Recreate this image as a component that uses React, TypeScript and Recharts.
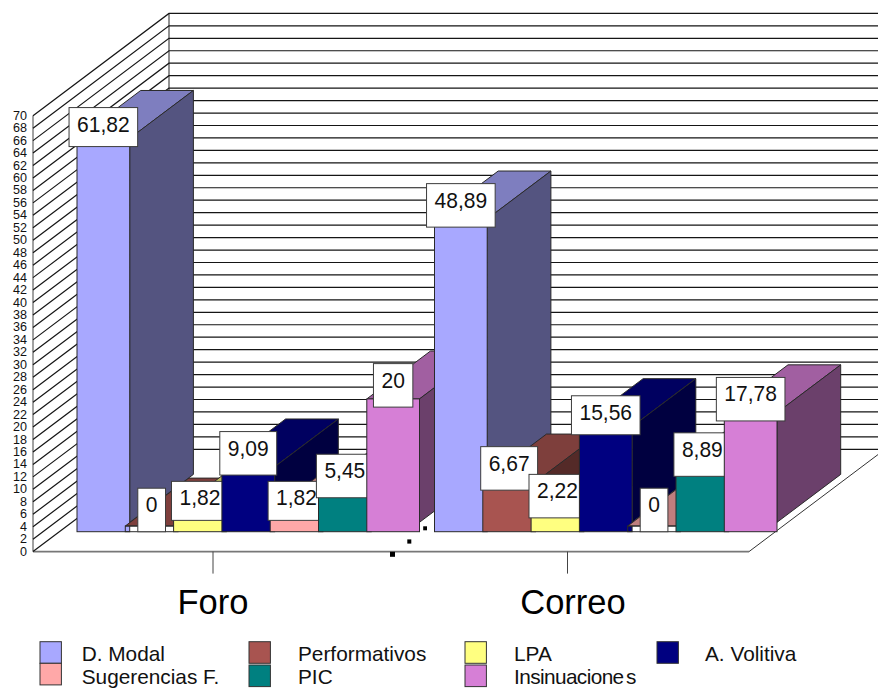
import React from 'react';
import { BarChart, Bar, XAxis, YAxis } from 'recharts';

const WIDTH = 878;
const HEIGHT = 688;

// Data
const categories = ['Foro', 'Correo'];
const seriesNames = ['D. Modal', 'Performativos', 'LPA', 'A. Volitiva', 'Sugerencias F.', 'PIC', 'Insinuaciones'];
const seriesColors = ['#A8A8FF', '#A85450', '#FFFF80', '#000080', '#FFA8A8', '#008080', '#D67FD6'];
const foroValues = [61.82, 0, 1.82, 9.09, 1.82, 5.45, 20];
const correoValues = [48.89, 6.67, 2.22, 15.56, 0, 8.89, 17.78];
const valueTicks = [0, 2, 4, 6, 8, 10, 12, 14, 16, 18, 20, 22, 24, 26, 28, 30, 32, 34, 36, 38, 40, 42, 44, 46, 48, 50, 52, 54, 56, 58, 60, 62, 64, 66, 68, 70];
const shortLabels = ['61,82', '15,56', '1,82'];

// Oblique projection of the box
const PLOT_LEFT = 33;
const PLOT_TOP = 115.7;
const PLOT_BOTTOM = 551.6;
const WALL_DX = 136;
const WALL_DY = 102.3;
const FLOOR_RIGHT = 749;
const BAR_DX = 63.7;
const BAR_DY = 47.9;
const FLOOR_LIP = 8.2; // fronts hang this far below the zero plane
const SIDE_LIFT = 1.2; // side faces stop this far above the zero plane
const EMPTY_DROP = 2.5; // an empty bar's lid sits just under the zero plane

const FONT = '"Liberation Sans", Arial, sans-serif';

const shade = (hex: string, k: number) => {
  const n = parseInt(hex.slice(1), 16);
  const c = [(n >> 16) & 255, (n >> 8) & 255, n & 255].map((v) => Math.round(v * k));
  return `rgb(${c[0]},${c[1]},${c[2]})`;
};

const formatValue = (v: number) => String(v).replace('.', ',');

// One bar in oblique projection, with its value box in front of it.
const Block = (props: any) => {
  const { x, y: valueY, width, height, color, amount } = props;
  const zero = valueY + height;
  const y = amount === 0 ? zero + EMPTY_DROP : valueY;
  const bottom = zero + FLOOR_LIP;
  const sideBottom = zero - SIDE_LIFT;
  const label = formatValue(amount);
  const textW = label.replace(',', '').length * 11.7 + (label.includes(',') ? 5.8 : 0);
  const boxW = textW + 16;
  const boxH = shortLabels.includes(label) ? 39 : 43.5;
  const cx = x + width / 2;
  const boxBottom = valueY + FLOOR_LIP;
  const edge = '#2a2a2a';
  return (
    <g>
      <polygon
        points={`${x},${y} ${x + width},${y} ${x + width + BAR_DX},${y - BAR_DY} ${x + BAR_DX},${y - BAR_DY}`}
        fill={shade(color, 0.75)}
        stroke={edge}
      />
      {y < sideBottom && (
        <polygon
          points={`${x + width},${y} ${x + width + BAR_DX},${y - BAR_DY} ${x + width + BAR_DX},${sideBottom - BAR_DY} ${x + width},${sideBottom}`}
          fill={shade(color, 0.5)}
          stroke={edge}
        />
      )}
      <rect x={x} y={y} width={width} height={bottom - y} fill={amount === 0 ? 'none' : color} stroke={edge} />
      <rect x={cx - boxW / 2} y={boxBottom - boxH} width={boxW} height={boxH} fill="#fff" stroke="#3c3c3c" />
      <text
        x={cx}
        y={boxBottom - boxH + 16.5}
        textAnchor="middle"
        dominantBaseline="central"
        fontFamily={FONT}
        fontSize={22.5}
        textLength={textW}
        lengthAdjust="spacingAndGlyphs"
        fill="#111"
      >
        {label}
      </text>
    </g>
  );
};

// Value tick with the side wall and back wall rulings at that height.
const WallTick = (props: any) => {
  const { y, payload } = props;
  return (
    <g>
      <polyline
        points={`${PLOT_LEFT},${y} ${PLOT_LEFT + WALL_DX},${y - WALL_DY} ${WIDTH + 10},${y - WALL_DY}`}
        fill="none"
        stroke="#151515"
        strokeWidth={1.2}
      />
      <text
        x={27}
        y={y}
        textAnchor="end"
        dominantBaseline="central"
        fontFamily={FONT}
        fontSize={12.4}
        textLength={String(payload.value).length * 7}
        lengthAdjust="spacingAndGlyphs"
        fill="#111"
      >
        {payload.value}
      </text>
    </g>
  );
};

const CategoryTick = (props: any) => {
  const { x, y, payload } = props;
  return (
    <text x={payload.value === 'Correo' ? x + 5.5 : x} y={y + 38} textAnchor="middle" fontFamily={FONT} fontSize={34.5} fill="#000">
      {payload.value}
    </text>
  );
};

const layer: React.CSSProperties = { position: 'absolute', left: 0, top: 0 };

// One category cluster; clusters are stacked so the later one overlaps the earlier one.
const Cluster = ({ category, values, padLeft, padRight }: { category: string; values: number[]; padLeft: number; padRight: number }) => {
  const row: Record<string, any> = { category };
  seriesNames.forEach((name, i) => {
    row[name] = values[i];
  });
  return (
    <div style={layer}>
      <BarChart
        width={WIDTH}
        height={HEIGHT}
        data={[row]}
        margin={{ top: PLOT_TOP, right: 0, bottom: HEIGHT - PLOT_BOTTOM, left: PLOT_LEFT }}
        barSize={52.7}
        barGap={-4.4}
      >
        <XAxis dataKey="category" type="category" hide padding={{ left: padLeft, right: padRight }} />
        <YAxis type="number" hide domain={[-4.51, 65.46]} />
        {seriesNames.map((name, i) => (
          <Bar
            key={name}
            dataKey={name}
            isAnimationActive={false}
            shape={(p: any) => <Block {...p} color={seriesColors[i]} amount={values[i]} />}
          />
        ))}
      </BarChart>
    </div>
  );
};

const legendSwatchX = [40, 249, 465, 657];
const legendTextX = [81.7, 298, 514, 705];

const Legend3D = () => (
  <g fontFamily={FONT} fontSize={20.8} fill="#111">
    {seriesNames.map((name, i) => {
      const col = i < 4 ? i : i - 4;
      const row = i < 4 ? 0 : 1;
      const sy = row === 0 ? 641.7 : col === 0 ? 663.3 : 665;
      return (
        <g key={name}>
          <rect x={legendSwatchX[col]} y={sy} width={21.4} height={21.6} fill={seriesColors[i]} stroke="#333" />
          <text x={legendTextX[col]} y={row === 0 ? 661 : 684.3}>
            {name === 'Insinuaciones' ? (
              <>
                <tspan letterSpacing={-0.6}>Insinuacione</tspan>
                <tspan dx={2.5}>s</tspan>
              </>
            ) : (
              name
            )}
          </text>
        </g>
      );
    })}
  </g>
);

export default function App() {
  const backBottom = PLOT_BOTTOM - WALL_DY;
  const backLeft = PLOT_LEFT + WALL_DX;
  return (
    <div style={{ position: 'absolute', left: 0, top: 0, width: WIDTH, height: HEIGHT, overflow: 'hidden', background: '#fff' }}>
      <svg width={WIDTH} height={HEIGHT} style={layer}>
        <polygon
          points={`${PLOT_LEFT},${PLOT_BOTTOM} ${FLOOR_RIGHT},${PLOT_BOTTOM} ${FLOOR_RIGHT + WALL_DX},${backBottom} ${backLeft},${backBottom}`}
          fill="#fff"
        />
        <line x1={FLOOR_RIGHT} y1={PLOT_BOTTOM} x2={FLOOR_RIGHT + WALL_DX} y2={backBottom} stroke="#333" />
        <line x1={PLOT_LEFT} y1={PLOT_BOTTOM} x2={FLOOR_RIGHT} y2={PLOT_BOTTOM} stroke="#777" strokeWidth={1.6} />
        <line x1={backLeft} y1={PLOT_TOP - WALL_DY} x2={backLeft} y2={backBottom} stroke="#222" />
        <rect x={390} y={551.8} width={5} height={5} fill="#000" />
        <rect x={407.3} y={539.4} width={4} height={4.2} fill="#000" />
        <rect x={423.2} y={526.3} width={3.8} height={4} fill="#000" />
        <Legend3D />
      </svg>

      <div style={layer}>
        <BarChart
          width={WIDTH}
          height={HEIGHT}
          data={categories.map((category) => ({ category }))}
          margin={{ top: PLOT_TOP, right: 0, bottom: HEIGHT - PLOT_BOTTOM - 70, left: 0 }}
        >
          <XAxis
            dataKey="category"
            height={70}
            padding={{ left: 2.75, right: 133.25 }}
            axisLine={false}
            tickSize={22}
            tickLine={{ stroke: '#444' }}
            tick={<CategoryTick />}
            interval={0}
          />
          <YAxis
            type="number"
            width={PLOT_LEFT}
            domain={[0, 70]}
            allowDataOverflow
            ticks={valueTicks}
            interval={0}
            tickLine={false}
            axisLine={{ stroke: '#444' }}
            tick={<WallTick />}
          />
        </BarChart>
      </div>

      <Cluster category={categories[0]} values={foroValues} padLeft={36} padRight={451} />
      <Cluster category={categories[1]} values={correoValues} padLeft={393.5} padRight={93.5} />
    </div>
  );
}
